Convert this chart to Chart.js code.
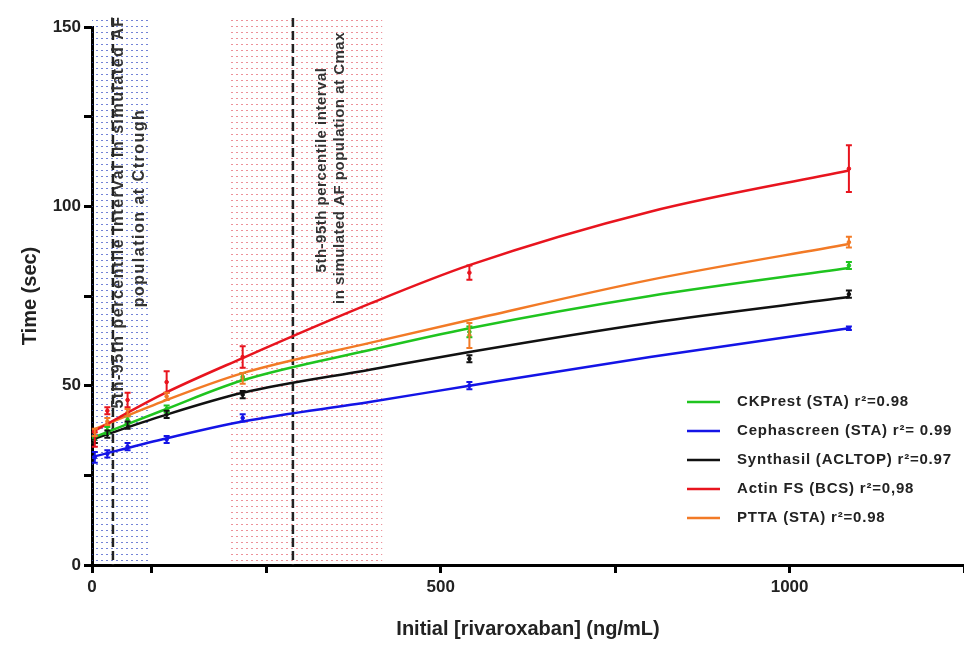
<!DOCTYPE html>
<html>
<head>
<meta charset="utf-8">
<script src="https://cdn.jsdelivr.net/npm/chart.js@4.4.1/dist/chart.umd.min.js"></script>
<style>
  body { margin: 0; background: #fff; overflow: hidden; }
  canvas { display: block; }
</style>
</head>
<body>
<!-- 5px a mais na largura: o chart.js reserva essa margem a direita do eixo x -->
<canvas id="grafico-tempo" width="969" height="645"></canvas>
<script>
// concentracoes medidas (ng/mL)
const concentracoes = [4, 22, 51, 107, 216, 541, 1085];

// medias e erros
const ckprestMedia = [35, 37.5, 40.5, 43.5, 52.5, 65, 83.5];
const ckprestErro = [1, 1, 1, 1, 1, 1.5, 1];
const cephaMedia = [30, 31, 33, 35, 41, 50, 66];
const cephaErro = [1.5, 1, 1, 1, 1, 1, 0.5];
const synthMedia = [35, 36.5, 39, 42, 47.5, 57.5, 75.5];
const synthErro = [1, 1, 1, 1, 1, 1, 1];
const actinMedia = [35, 43, 46, 51, 58, 81.5, 110.5];
const actinErro = [2, 1, 2, 3, 3, 2, 6.5];
const pttaMedia = [37, 40, 42.5, 47, 52, 64, 90];
const pttaErro = [1, 1, 1, 1, 1.5, 3.5, 1.5];

// curvas de ajuste (valores lidos ao longo de cada curva)
const ajusteX = [0, 100, 216, 400, 541, 800, 1085];
const ckprestAjuste = [35.4, 43, 51.5, 60, 66, 75, 82.8];
const cephaAjuste = [30.1, 35, 40, 45.5, 50, 58, 66];
const synthAjuste = [35, 41.5, 48, 54.5, 59.4, 67.5, 74.7];
const actinAjuste = [37, 47.5, 57.7, 73, 83.6, 98.5, 110];
const pttaAjuste = [37.6, 45.5, 53.5, 62, 68.3, 79.5, 89.5];

// ticks do eixo x
const ticksX = [0, 86, 250, 500, 750, 1000, 1250];
const rotulosX = [0, 500, 1000];

// intervalos 5-95 percentil e linhas tracejadas
const faixaCtrough = [0, 83];
const faixaCmax = [195, 416];
const linhasTracejadas = [30, 288];

const legendas = [
  'CKPrest (STA) r\u00b2=0.98',
  'Cephascreen (STA) r\u00b2= 0.99',
  'Synthasil (ACLTOP) r\u00b2=0.97',
  'Actin FS (BCS) r\u00b2=0,98',
  'PTTA (STA) r\u00b2=0.98'
];
const cores = ['#1fc41f', '#1414e6', '#111111', '#e8141e', '#f27a26'];

const medias = [ckprestMedia, cephaMedia, synthMedia, actinMedia, pttaMedia];
const erros = [ckprestErro, cephaErro, synthErro, actinErro, pttaErro];
const ajustes = [ckprestAjuste, cephaAjuste, synthAjuste, actinAjuste, pttaAjuste];

const fonte = "'Liberation Sans', Arial, sans-serif";

function padraoPontos(cor) {
  const c = document.createElement('canvas');
  c.width = 5; c.height = 6;
  const g = c.getContext('2d');
  g.fillStyle = cor;
  g.fillRect(1, 2, 2, 1);
  return c;
}

const datasets = [];
ajustes.forEach((a, i) => {
  datasets.push({
    label: legendas[i],
    data: ajusteX.map((x, k) => ({ x: x, y: a[k] })),
    showLine: true,
    borderColor: cores[i],
    borderWidth: 2.5,
    pointRadius: 0,
    cubicInterpolationMode: 'monotone',
    fill: false
  });
});
medias.forEach((m, i) => {
  datasets.push({
    label: 'pts' + i,
    data: concentracoes.map((x, k) => ({ x: x, y: m[k] })),
    erros: erros[i],
    showLine: false,
    pointRadius: 1.8,
    pointBackgroundColor: cores[i],
    pointBorderColor: cores[i],
    borderColor: cores[i]
  });
});

const fundoPlugin = {
  id: 'fundo',
  beforeDatasetsDraw(chart) {
    const { ctx, chartArea, scales } = chart;
    const x = scales.x;
    const top = chartArea.top - 9;
    ctx.save();
    const faixas = [[faixaCtrough, 'rgba(70,90,200,0.75)'], [faixaCmax, 'rgba(230,110,120,0.75)']];
    faixas.forEach(([f, cor]) => {
      const p = ctx.createPattern(padraoPontos(cor), 'repeat');
      const x0 = x.getPixelForValue(f[0]);
      const x1 = x.getPixelForValue(f[1]);
      ctx.fillStyle = p;
      ctx.fillRect(x0, top, x1 - x0, chartArea.bottom - top);
    });
    // linhas tracejadas
    ctx.strokeStyle = '#222';
    ctx.lineWidth = 2.5;
    ctx.setLineDash([9, 4]);
    linhasTracejadas.forEach(v => {
      const px = x.getPixelForValue(v);
      ctx.beginPath();
      ctx.moveTo(px, top);
      ctx.lineTo(px, chartArea.bottom);
      ctx.stroke();
    });
    ctx.setLineDash([]);
    // textos rotacionados
    ctx.fillStyle = '#333';
    ctx.textBaseline = 'middle';
    const texto = (t, px, py, tam, esp) => {
      ctx.save();
      ctx.translate(px, py);
      ctx.rotate(-Math.PI / 2);
      ctx.font = 'bold ' + tam + 'px ' + fonte;
      ctx.letterSpacing = esp + 'px';
      ctx.textAlign = 'center';
      ctx.fillText(t, 0, 0);
      ctx.restore();
    };
    texto('5th-95th percentile interval in simulated AF', 119, 212, 16, 1.5);
    texto('population at Ctrough', 140, 208, 16, 1.5);
    texto('5th-95th percentile interval', 322, 170, 15, 0.5);
    texto('in simulated AF population at Cmax', 340, 168, 15, 0.5);
    ctx.restore();
  },
  afterDatasetsDraw(chart) {
    const { ctx, scales } = chart;
    ctx.save();
    chart.data.datasets.forEach(ds => {
      if (!ds.erros) return;
      ctx.strokeStyle = ds.borderColor;
      ctx.lineWidth = 2;
      ds.data.forEach((p, k) => {
        const e = ds.erros[k];
        const px = scales.x.getPixelForValue(p.x);
        const y0 = scales.y.getPixelForValue(p.y - e);
        const y1 = scales.y.getPixelForValue(p.y + e);
        ctx.beginPath();
        ctx.moveTo(px, y0); ctx.lineTo(px, y1);
        ctx.moveTo(px - 3, y0); ctx.lineTo(px + 3, y0);
        ctx.moveTo(px - 3, y1); ctx.lineTo(px + 3, y1);
        ctx.stroke();
      });
    });
    ctx.restore();
  },
  afterDraw(chart) {
    const ctx = chart.ctx;
    ctx.save();
    ctx.font = 'bold 15px ' + fonte;
    ctx.letterSpacing = '0.8px';
    ctx.textBaseline = 'middle';
    ctx.fillStyle = '#222';
    legendas.forEach((t, i) => {
      const y = 402 + i * 29;
      ctx.strokeStyle = cores[i];
      ctx.lineWidth = 2.5;
      ctx.beginPath();
      ctx.moveTo(687, y); ctx.lineTo(720, y);
      ctx.stroke();
      ctx.fillText(t, 737, y);
    });
    ctx.restore();
  }
};

const ctx = document.getElementById('grafico-tempo').getContext('2d');

const graficoTempo = new Chart(ctx, {
  type: 'scatter',
  data: { datasets: datasets },
  options: {
    responsive: false,
    devicePixelRatio: 1,
    animation: false,
    layout: { padding: { top: 27, right: 0, left: 0, bottom: 0 } },
    plugins: {
      legend: { display: false },
      tooltip: { enabled: false }
    },
    scales: {
      x: {
        type: 'linear',
        min: 0,
        max: 1250,
        afterFit: s => { s.height = 80; },
        afterBuildTicks: s => { s.ticks = ticksX.map(v => ({ value: v })); },
        border: { color: '#000', width: 3 },
        grid: { drawOnChartArea: false, drawTicks: true, tickLength: 8, tickColor: '#000', tickWidth: 3 },
        ticks: {
          padding: 4,
          color: '#222',
          font: { family: fonte, size: 17, weight: 'bold' },
          callback: v => (rotulosX.includes(v) ? v : '')
        },
        title: {
          display: true,
          text: 'Initial [rivaroxaban] (ng/mL)',
          color: '#222',
          font: { family: fonte, size: 20, weight: 'bold' },
          padding: { top: 8 }
        }
      },
      y: {
        min: 0,
        max: 150,
        afterFit: s => { s.width = 92; },
        border: { color: '#000', width: 3 },
        grid: { drawOnChartArea: false, drawTicks: true, tickLength: 8, tickColor: '#000', tickWidth: 3 },
        ticks: {
          stepSize: 25,
          padding: 3,
          color: '#222',
          font: { family: fonte, size: 17, weight: 'bold' },
          callback: v => (v % 50 === 0 ? v : '')
        },
        title: {
          display: true,
          text: 'Time (sec)',
          color: '#222',
          font: { family: fonte, size: 20, weight: 'bold' },
          padding: { top: 18, bottom: 0 }
        }
      }
    }
  },
  plugins: [fundoPlugin]
});
</script>
</body>
</html>
